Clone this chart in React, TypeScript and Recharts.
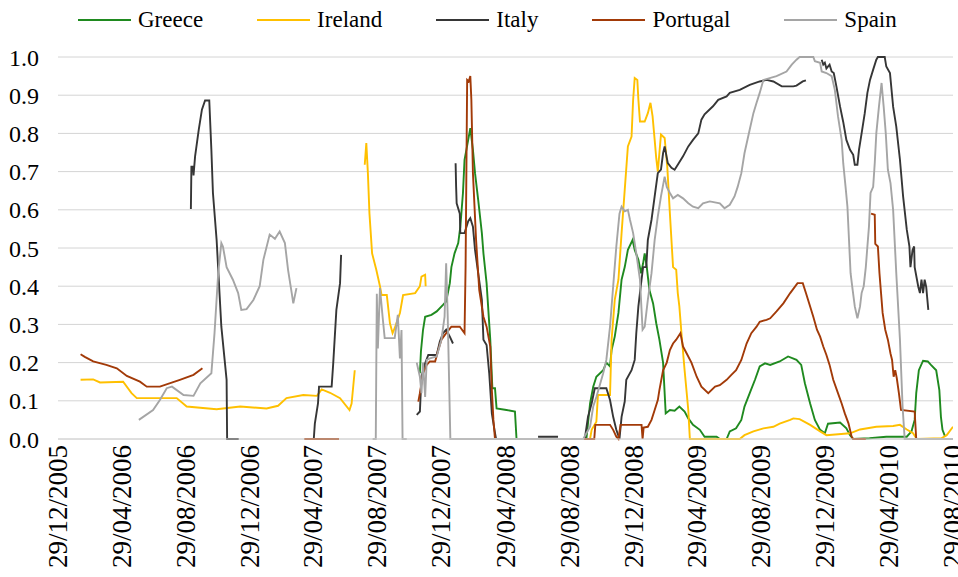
import { CartesianGrid, Legend, Line, LineChart, XAxis, YAxis } from "recharts";

type Pt = [string, number];

// each series is a list of segments, the chart leaves gaps between them
const greece: Pt[][] = [
  [
    ["2007-11-18", 0.172], ["2007-11-20", 0.229], ["2007-11-24", 0.286], ["2007-11-28", 0.32],
    ["2007-12-10", 0.325], ["2007-12-20", 0.334], ["2008-01-01", 0.351], ["2008-01-07", 0.36],
    ["2008-01-14", 0.408], ["2008-01-17", 0.45], ["2008-01-23", 0.486], ["2008-01-30", 0.513],
    ["2008-02-03", 0.556], ["2008-02-08", 0.644], ["2008-02-11", 0.731], ["2008-02-18", 0.783],
    ["2008-02-22", 0.814], ["2008-02-27", 0.757], ["2008-03-02", 0.696], ["2008-03-08", 0.626],
    ["2008-03-15", 0.539], ["2008-03-18", 0.486], ["2008-03-24", 0.408], ["2008-03-31", 0.26],
    ["2008-04-04", 0.133], ["2008-04-09", 0.133], ["2008-04-12", 0.08], ["2008-05-01", 0.076],
    ["2008-05-17", 0.072], ["2008-05-20", 0],
  ],
  [
    ["2008-09-30", 0], ["2008-10-07", 0.093], ["2008-10-13", 0.137], ["2008-10-19", 0.163],
    ["2008-11-01", 0.18], ["2008-11-07", 0.2], ["2008-11-14", 0.19], ["2008-11-17", 0.233],
    ["2008-11-23", 0.268], ["2008-11-30", 0.33], ["2008-12-06", 0.417], ["2008-12-12", 0.45],
    ["2008-12-18", 0.495], ["2008-12-27", 0.521], ["2008-12-31", 0.495], ["2009-01-07", 0.469],
    ["2009-01-12", 0.434], ["2009-01-16", 0.46], ["2009-01-19", 0.486], ["2009-01-23", 0.45],
    ["2009-01-28", 0.39], ["2009-02-04", 0.355], ["2009-02-10", 0.303], ["2009-02-16", 0.26],
    ["2009-02-23", 0.2], ["2009-02-28", 0.067], ["2009-03-08", 0.076], ["2009-03-17", 0.074],
    ["2009-03-26", 0.085], ["2009-04-05", 0.072], ["2009-04-12", 0.054], ["2009-04-21", 0.037],
    ["2009-05-04", 0.024], ["2009-05-13", 0.006], ["2009-06-05", 0.006], ["2009-06-11", 0],
    ["2009-06-24", 0], ["2009-06-30", 0.02], ["2009-07-12", 0.028], ["2009-07-22", 0.05],
    ["2009-07-28", 0.085], ["2009-08-07", 0.12], ["2009-08-17", 0.155], ["2009-08-26", 0.19],
    ["2009-09-05", 0.198], ["2009-09-15", 0.194], ["2009-10-03", 0.203], ["2009-10-19", 0.216],
    ["2009-11-04", 0.207], ["2009-11-13", 0.194], ["2009-11-20", 0.146], ["2009-11-30", 0.093],
    ["2009-12-09", 0.05], ["2009-12-19", 0.024], ["2009-12-28", 0.015], ["2010-01-03", 0.04],
    ["2010-01-26", 0.043], ["2010-02-07", 0.028], ["2010-02-14", 0.01], ["2010-02-20", 0],
    ["2010-03-23", 0.002], ["2010-04-24", 0.006], ["2010-06-02", 0.006], ["2010-06-11", 0.02],
    ["2010-06-17", 0.05], ["2010-06-20", 0.12], ["2010-06-25", 0.18], ["2010-07-03", 0.205],
    ["2010-07-12", 0.203], ["2010-07-18", 0.194], ["2010-07-28", 0.18], ["2010-08-03", 0.128],
    ["2010-08-06", 0.058], ["2010-08-09", 0.024], ["2010-08-14", 0.006],
  ],
];

const ireland: Pt[][] = [
  [
    ["2006-02-10", 0.155], ["2006-03-06", 0.156], ["2006-03-19", 0.148], ["2006-05-02", 0.15],
    ["2006-05-18", 0.12], ["2006-05-28", 0.107], ["2006-08-12", 0.107], ["2006-08-31", 0.085],
    ["2006-10-27", 0.078], ["2006-12-11", 0.085], ["2007-01-30", 0.08], ["2007-02-21", 0.087],
    ["2007-03-09", 0.107], ["2007-04-10", 0.115], ["2007-05-06", 0.113], ["2007-05-15", 0.13],
    ["2007-05-31", 0.121], ["2007-06-19", 0.107], ["2007-07-07", 0.076], ["2007-07-11", 0.093],
    ["2007-07-17", 0.18],
  ],
  [
    ["2007-08-05", 0.718], ["2007-08-08", 0.775], ["2007-08-11", 0.696], ["2007-08-14", 0.59],
    ["2007-08-19", 0.486], ["2007-08-27", 0.443], ["2007-09-03", 0.4], ["2007-09-06", 0.377],
    ["2007-09-16", 0.377], ["2007-09-22", 0.303], ["2007-09-27", 0.277], ["2007-10-01", 0.29],
    ["2007-10-11", 0.33], ["2007-10-17", 0.377], ["2007-11-09", 0.382], ["2007-11-18", 0.4],
    ["2007-11-21", 0.425], ["2007-11-28", 0.43], ["2007-11-29", 0.4],
  ],
  [
    ["2008-04-02", 0], ["2008-10-07", 0], ["2008-10-10", 0.024], ["2008-10-19", 0.045],
    ["2008-10-22", 0.115], ["2008-11-14", 0.115], ["2008-11-17", 0.26], ["2008-11-23", 0.364],
    ["2008-11-30", 0.417], ["2008-12-06", 0.539], ["2008-12-12", 0.652], ["2008-12-18", 0.766],
    ["2008-12-25", 0.792], ["2008-12-28", 0.888], ["2008-12-31", 0.945], ["2009-01-05", 0.94],
    ["2009-01-07", 0.888], ["2009-01-10", 0.831], ["2009-01-19", 0.831], ["2009-01-25", 0.853],
    ["2009-01-30", 0.88], ["2009-02-03", 0.845], ["2009-02-07", 0.783], ["2009-02-10", 0.735],
    ["2009-02-13", 0.7], ["2009-02-19", 0.797], ["2009-02-26", 0.788], ["2009-03-03", 0.713],
    ["2009-03-08", 0.59], ["2009-03-14", 0.45], ["2009-03-20", 0.443], ["2009-03-23", 0.382],
    ["2009-03-26", 0.347], ["2009-03-30", 0.277], ["2009-04-05", 0.18], ["2009-04-12", 0.076],
    ["2009-04-15", 0], ["2009-07-19", 0], ["2009-07-28", 0.01], ["2009-08-14", 0.02],
    ["2009-09-02", 0.028], ["2009-09-21", 0.032], ["2009-10-03", 0.04], ["2009-10-23", 0.05],
    ["2009-10-29", 0.054], ["2009-11-10", 0.052], ["2009-11-30", 0.037], ["2009-12-19", 0.02],
    ["2009-12-31", 0.01], ["2010-02-14", 0.015], ["2010-03-05", 0.025], ["2010-04-05", 0.032],
    ["2010-05-07", 0.034], ["2010-05-20", 0.037], ["2010-06-02", 0.025], ["2010-06-14", 0.015],
    ["2010-06-21", 0], ["2010-08-07", 0.002], ["2010-08-17", 0.01], ["2010-08-29", 0.032],
  ],
];

const italy: Pt[][] = [
  [
    ["2006-09-08", 0.602], ["2006-09-09", 0.713], ["2006-09-12", 0.713], ["2006-09-13", 0.69],
    ["2006-09-16", 0.74], ["2006-09-23", 0.81], ["2006-09-29", 0.862], ["2006-10-05", 0.886],
    ["2006-10-13", 0.886], ["2006-10-17", 0.757], ["2006-10-20", 0.644], ["2006-10-27", 0.521],
    ["2006-11-05", 0.294], ["2006-11-15", 0.155], ["2006-11-16", 0], ["2006-12-08", 0],
  ],
  [
    ["2007-04-30", 0], ["2007-05-02", 0.04], ["2007-05-08", 0.093], ["2007-05-10", 0.137],
    ["2007-06-03", 0.137], ["2007-06-06", 0.198], ["2007-06-12", 0.338], ["2007-06-19", 0.408],
    ["2007-06-21", 0.482],
  ],
  [
    ["2007-11-12", 0.063], ["2007-11-18", 0.072], ["2007-11-21", 0.163], ["2007-11-28", 0.198],
    ["2007-12-04", 0.22], ["2007-12-20", 0.22], ["2007-12-26", 0.255], ["2008-01-01", 0.277],
    ["2008-01-07", 0.286], ["2008-01-14", 0.268], ["2008-01-20", 0.25],
  ],
  [
    ["2008-01-25", 0.722], ["2008-01-26", 0.66], ["2008-01-27", 0.617], ["2008-02-02", 0.59],
    ["2008-02-03", 0.539], ["2008-02-11", 0.539], ["2008-02-18", 0.57], ["2008-02-22", 0.578],
    ["2008-02-27", 0.556], ["2008-03-02", 0.495], ["2008-03-08", 0.434], ["2008-03-15", 0.364],
    ["2008-03-18", 0.26], ["2008-03-24", 0.246], ["2008-03-29", 0.172], ["2008-04-03", 0.067],
    ["2008-04-08", 0.024], ["2008-04-11", 0],
  ],
  [["2008-06-30", 0.006], ["2008-08-07", 0.006]],
  [
    ["2008-09-27", 0], ["2008-10-03", 0.058], ["2008-10-10", 0.093], ["2008-10-16", 0.133],
    ["2008-11-07", 0.133], ["2008-11-14", 0.102], ["2008-11-20", 0.058], ["2008-11-26", 0.024],
    ["2008-12-02", 0], ["2008-12-06", 0.058], ["2008-12-12", 0.098], ["2008-12-15", 0.155],
    ["2008-12-25", 0.18], ["2008-12-31", 0.207], ["2009-01-03", 0.277], ["2009-01-07", 0.347],
    ["2009-01-13", 0.417], ["2009-01-16", 0.45], ["2009-01-22", 0.45], ["2009-01-25", 0.521],
    ["2009-02-01", 0.574], ["2009-02-07", 0.635], ["2009-02-13", 0.696], ["2009-02-19", 0.705],
    ["2009-02-23", 0.748], ["2009-02-26", 0.766], ["2009-03-04", 0.722], ["2009-03-11", 0.71],
    ["2009-03-17", 0.705], ["2009-03-23", 0.718], ["2009-04-02", 0.74], ["2009-04-12", 0.766],
    ["2009-04-21", 0.783], ["2009-05-01", 0.8], ["2009-05-07", 0.836], ["2009-05-13", 0.85],
    ["2009-05-29", 0.871], ["2009-06-08", 0.888], ["2009-06-24", 0.897], ["2009-06-30", 0.906],
    ["2009-07-19", 0.914], ["2009-08-07", 0.927], ["2009-08-26", 0.936], ["2009-09-08", 0.94],
    ["2009-09-21", 0.936], ["2009-10-07", 0.923], ["2009-10-29", 0.923], ["2009-11-04", 0.925],
    ["2009-11-16", 0.936], ["2009-11-22", 0.939],
  ],
  [
    ["2009-12-22", 0.993], ["2009-12-25", 0.98], ["2009-12-28", 0.985], ["2009-12-31", 0.97],
    ["2010-01-06", 0.98], ["2010-01-10", 0.962], ["2010-01-14", 0.958], ["2010-01-19", 0.923],
    ["2010-01-26", 0.87], ["2010-02-01", 0.83], ["2010-02-07", 0.783], ["2010-02-14", 0.757],
    ["2010-02-20", 0.744], ["2010-02-23", 0.718], ["2010-02-28", 0.718], ["2010-03-03", 0.757],
    ["2010-03-08", 0.8], ["2010-03-14", 0.853], ["2010-03-19", 0.906], ["2010-03-24", 0.94],
    ["2010-03-30", 0.967], ["2010-04-05", 0.993], ["2010-04-08", 1.0], ["2010-04-21", 1.0],
    ["2010-04-24", 0.975], ["2010-05-01", 0.958], ["2010-05-07", 0.87], ["2010-05-13", 0.818],
    ["2010-05-20", 0.731], ["2010-05-26", 0.635], ["2010-06-02", 0.548], ["2010-06-07", 0.504],
    ["2010-06-09", 0.45], ["2010-06-13", 0.495], ["2010-06-16", 0.504], ["2010-06-17", 0.45],
    ["2010-06-24", 0.398], ["2010-06-27", 0.382], ["2010-06-30", 0.417], ["2010-07-03", 0.382],
    ["2010-07-06", 0.417], ["2010-07-09", 0.398], ["2010-07-13", 0.338],
  ],
];

const portugal: Pt[][] = [
  [
    ["2006-02-10", 0.222], ["2006-02-18", 0.215], ["2006-03-06", 0.203], ["2006-03-31", 0.194],
    ["2006-04-20", 0.185], ["2006-05-09", 0.165], ["2006-06-03", 0.15], ["2006-06-16", 0.137],
    ["2006-07-11", 0.137], ["2006-08-18", 0.155], ["2006-09-13", 0.168], ["2006-09-30", 0.185],
  ],
  [["2007-04-12", 0], ["2007-06-17", 0]],
  [
    ["2007-11-15", 0.098], ["2007-11-18", 0.12], ["2007-11-24", 0.172], ["2007-12-01", 0.194],
    ["2007-12-07", 0.203], ["2007-12-17", 0.203], ["2007-12-23", 0.233], ["2007-12-29", 0.26],
    ["2008-01-07", 0.277], ["2008-01-17", 0.294], ["2008-02-02", 0.294], ["2008-02-11", 0.277],
    ["2008-02-13", 0.45], ["2008-02-16", 0.94], ["2008-02-19", 0.936], ["2008-02-22", 0.95],
    ["2008-02-24", 0.888], ["2008-02-27", 0.696], ["2008-03-04", 0.521], ["2008-03-10", 0.39],
    ["2008-03-18", 0.32], ["2008-03-24", 0.294], ["2008-03-31", 0.242], ["2008-04-03", 0.128],
    ["2008-04-06", 0.05], ["2008-04-09", 0], ["2008-10-15", 0], ["2008-10-17", 0.037],
    ["2008-11-14", 0.037], ["2008-11-20", 0.024], ["2008-11-26", 0.006], ["2008-11-30", 0],
    ["2008-12-04", 0.037], ["2009-01-13", 0.037], ["2009-01-15", 0], ["2009-01-17", 0.03],
    ["2009-01-25", 0.032], ["2009-02-01", 0.05], ["2009-02-07", 0.076], ["2009-02-13", 0.102],
    ["2009-02-16", 0.128], ["2009-02-23", 0.18], ["2009-03-02", 0.2], ["2009-03-08", 0.233],
    ["2009-03-14", 0.25], ["2009-03-20", 0.26], ["2009-03-28", 0.277], ["2009-04-02", 0.242],
    ["2009-04-09", 0.224], ["2009-04-18", 0.2], ["2009-04-28", 0.163], ["2009-05-07", 0.137],
    ["2009-05-20", 0.12], ["2009-06-02", 0.137], ["2009-06-11", 0.141], ["2009-06-24", 0.155],
    ["2009-07-03", 0.168], ["2009-07-12", 0.18], ["2009-07-22", 0.207], ["2009-08-01", 0.25],
    ["2009-08-10", 0.277], ["2009-08-20", 0.294], ["2009-08-26", 0.307], ["2009-09-08", 0.312],
    ["2009-09-15", 0.316], ["2009-09-27", 0.334], ["2009-10-10", 0.355], ["2009-10-23", 0.382],
    ["2009-11-06", 0.408], ["2009-11-16", 0.408], ["2009-11-22", 0.382], ["2009-11-30", 0.347],
    ["2009-12-06", 0.32], ["2009-12-13", 0.286], ["2009-12-19", 0.268], ["2009-12-25", 0.242],
    ["2009-12-31", 0.22], ["2010-01-06", 0.194], ["2010-01-13", 0.155], ["2010-01-22", 0.12],
    ["2010-01-29", 0.093], ["2010-02-04", 0.067], ["2010-02-11", 0.041], ["2010-02-17", 0.006],
    ["2010-02-20", 0], ["2010-03-16", 0],
  ],
  [
    ["2010-03-26", 0.59], ["2010-04-02", 0.587], ["2010-04-03", 0.511], ["2010-04-08", 0.504],
    ["2010-04-11", 0.434], ["2010-04-14", 0.382], ["2010-04-17", 0.33], ["2010-04-22", 0.286],
    ["2010-04-27", 0.26], ["2010-05-02", 0.224], ["2010-05-05", 0.207], ["2010-05-08", 0.163],
    ["2010-05-11", 0.18], ["2010-05-14", 0.159], ["2010-05-18", 0.12], ["2010-05-22", 0.076],
    ["2010-06-17", 0.072], ["2010-06-20", 0], ["2010-06-25", 0],
  ],
];

const spain: Pt[][] = [
  [
    ["2006-06-01", 0.05], ["2006-06-28", 0.076], ["2006-07-11", 0.102], ["2006-07-24", 0.133],
    ["2006-08-03", 0.137], ["2006-08-25", 0.115], ["2006-09-13", 0.113], ["2006-09-26", 0.146],
    ["2006-10-17", 0.172], ["2006-10-23", 0.277], ["2006-10-30", 0.434], ["2006-11-05", 0.513],
    ["2006-11-08", 0.504], ["2006-11-15", 0.45], ["2006-11-27", 0.417], ["2006-12-07", 0.382],
    ["2006-12-13", 0.338], ["2006-12-23", 0.34], ["2007-01-05", 0.364], ["2007-01-17", 0.4],
    ["2007-01-24", 0.469], ["2007-02-05", 0.535], ["2007-02-15", 0.524], ["2007-02-24", 0.543],
    ["2007-03-06", 0.513], ["2007-03-12", 0.443], ["2007-03-19", 0.382], ["2007-03-22", 0.355],
    ["2007-03-28", 0.395],
  ],
  [
    ["2007-08-20", 0], ["2007-08-26", 0], ["2007-08-28", 0.38], ["2007-08-30", 0.237],
    ["2007-09-03", 0.395], ["2007-09-08", 0.32], ["2007-09-12", 0.264], ["2007-10-01", 0.264],
    ["2007-10-07", 0.325], ["2007-10-11", 0.211], ["2007-10-14", 0.285], ["2007-10-16", 0],
    ["2007-10-24", 0],
  ],
  [
    ["2007-11-12", 0.2], ["2007-11-18", 0.163], ["2007-11-21", 0.12], ["2007-11-24", 0.2],
    ["2007-11-28", 0.11], ["2007-12-01", 0.207], ["2007-12-07", 0.211], ["2007-12-20", 0.216],
    ["2007-12-29", 0.26], ["2008-01-04", 0.32], ["2008-01-07", 0.46], ["2008-01-10", 0.32],
    ["2008-01-15", 0], ["2008-09-24", 0], ["2008-09-30", 0.015], ["2008-10-07", 0.032],
    ["2008-10-13", 0.085], ["2008-10-19", 0.11], ["2008-11-01", 0.172], ["2008-11-07", 0.207],
    ["2008-11-14", 0.294], ["2008-11-20", 0.4], ["2008-11-26", 0.504], ["2008-12-02", 0.59],
    ["2008-12-06", 0.608], ["2008-12-12", 0.596], ["2008-12-18", 0.6], ["2008-12-22", 0.574],
    ["2008-12-28", 0.539], ["2009-01-03", 0.486], ["2009-01-10", 0.417], ["2009-01-15", 0.286],
    ["2009-01-19", 0.294], ["2009-01-25", 0.364], ["2009-02-01", 0.434], ["2009-02-07", 0.521],
    ["2009-02-13", 0.583], ["2009-02-19", 0.635], ["2009-02-26", 0.687], ["2009-03-02", 0.66],
    ["2009-03-08", 0.644], ["2009-03-14", 0.63], ["2009-03-23", 0.639], ["2009-04-02", 0.63],
    ["2009-04-12", 0.617], ["2009-04-21", 0.608], ["2009-05-01", 0.604], ["2009-05-10", 0.617],
    ["2009-05-23", 0.622], ["2009-06-11", 0.617], ["2009-06-20", 0.604], ["2009-06-30", 0.613],
    ["2009-07-09", 0.635], ["2009-07-15", 0.66], ["2009-07-22", 0.696], ["2009-07-28", 0.748],
    ["2009-08-07", 0.81], ["2009-08-14", 0.853], ["2009-08-20", 0.88], ["2009-08-26", 0.906],
    ["2009-09-02", 0.94], ["2009-09-27", 0.95], ["2009-10-16", 0.962], ["2009-10-26", 0.98],
    ["2009-11-04", 0.993], ["2009-11-10", 1.0], ["2009-12-06", 1.0], ["2009-12-09", 0.989],
    ["2009-12-19", 0.985], ["2009-12-22", 0.962], ["2009-12-31", 0.958], ["2010-01-10", 0.95],
    ["2010-01-16", 0.914], ["2010-01-22", 0.845], ["2010-01-29", 0.783], ["2010-02-01", 0.722],
    ["2010-02-06", 0.652], ["2010-02-09", 0.608], ["2010-02-12", 0.521], ["2010-02-15", 0.434],
    ["2010-02-19", 0.39], ["2010-02-23", 0.347], ["2010-02-28", 0.316], ["2010-03-05", 0.347],
    ["2010-03-08", 0.382], ["2010-03-12", 0.4], ["2010-03-16", 0.45], ["2010-03-19", 0.504],
    ["2010-03-22", 0.556], ["2010-03-25", 0.644], ["2010-03-30", 0.66], ["2010-04-02", 0.722],
    ["2010-04-05", 0.8], ["2010-04-10", 0.87], ["2010-04-15", 0.932], ["2010-04-19", 0.87],
    ["2010-04-23", 0.8], ["2010-04-27", 0.705], ["2010-05-02", 0.67], ["2010-05-07", 0.6],
    ["2010-05-13", 0.434], ["2010-05-20", 0.26], ["2010-05-25", 0.085], ["2010-05-29", 0],
    ["2010-08-29", 0],
  ],
];

const xTicks = [
  "29/12/2005", "29/04/2006", "29/08/2006", "29/12/2006", "29/04/2007",
  "29/08/2007", "29/12/2007", "29/04/2008", "29/08/2008", "29/12/2008",
  "29/04/2009", "29/08/2009", "29/12/2009", "29/04/2010", "29/08/2010",
];
const yTicks = [0, 0.1, 0.2, 0.3, 0.4, 0.5, 0.6, 0.7, 0.8, 0.9, 1.0];

const series = [
  { name: "Greece", color: "#1F8A1F", segments: greece },
  { name: "Ireland", color: "#FFC000", segments: ireland },
  { name: "Italy", color: "#363636", segments: italy },
  { name: "Portugal", color: "#A23A08", segments: portugal },
  { name: "Spain", color: "#A5A5A5", segments: spain },
];

const FONT = "'Liberation Serif'";

const isoDay = (s: string) => {
  const [y, m, d] = s.split("-").map(Number);
  return Date.UTC(y, m - 1, d) / 864e5;
};
const dmyDay = (s: string) => {
  const [d, m, y] = s.split("/").map(Number);
  return Date.UTC(y, m - 1, d) / 864e5;
};
const fmtDay = (n: number) => {
  const dt = new Date(n * 864e5);
  const dd = String(dt.getUTCDate()).padStart(2, "0");
  const mm = String(dt.getUTCMonth() + 1).padStart(2, "0");
  return `${dd}/${mm}/${dt.getUTCFullYear()}`;
};

// flatten segments, a null point between two segments breaks the line
function toRows(segments: Pt[][]) {
  const rows: { t: number; v: number | null }[] = [];
  segments.forEach((seg, i) => {
    if (i > 0) rows.push({ t: isoDay(segments[i - 1][segments[i - 1].length - 1][0]), v: null });
    seg.forEach(([d, v]) => rows.push({ t: isoDay(d), v }));
  });
  return rows;
}

function DateTick({ x, y, payload }: any) {
  return (
    <text
      x={x}
      y={y}
      transform={`rotate(-90 ${x} ${y})`}
      textAnchor="end"
      dominantBaseline="central"
      fill="#000"
      style={{ fontFamily: FONT, fontSize: 27 }}
    >
      {fmtDay(payload.value)}
    </text>
  );
}

function LegendRow({ payload }: any) {
  return (
    <div style={{ display: "flex", alignItems: "center", paddingLeft: 78, fontFamily: FONT, fontSize: 23, color: "#000" }}>
      {(payload ?? []).map((p: any) => (
        <span key={p.value} style={{ display: "inline-flex", alignItems: "center", marginRight: 54 }}>
          <svg width={53} height={4} style={{ display: "block" }}>
            <line x1={0} y1={2} x2={53} y2={2} stroke={p.color} strokeWidth={2} />
          </svg>
          <span style={{ marginLeft: 7, lineHeight: "26px" }}>{p.value}</span>
        </span>
      ))}
    </div>
  );
}

export default function App() {
  const ticks = xTicks.map(dmyDay);
  return (
    <div style={{ position: "absolute", left: 0, top: 0, width: 958, height: 577, background: "#fff", fontFamily: FONT }}>
      <LineChart width={958} height={577} margin={{ top: 57, right: 5, left: 0, bottom: 0 }} style={{ fontFamily: FONT }}>
        <CartesianGrid horizontal vertical={false} stroke="#D4D4D4" />
        <XAxis
          type="number"
          dataKey="t"
          domain={[ticks[0], ticks[ticks.length - 1]]}
          ticks={ticks}
          interval={0}
          allowDataOverflow
          height={138}
          tick={<DateTick />}
          tickLine={false}
          tickSize={0}
          tickMargin={6}
          axisLine={{ stroke: "#D4D4D4" }}
        />
        <YAxis
          domain={[0, 1]}
          ticks={yTicks}
          interval={0}
          width={58}
          tickFormatter={(v: number) => v.toFixed(1)}
          tick={{ fill: "#000", fontSize: 24, style: { fontFamily: FONT } }}
          tickLine={false}
          tickSize={0}
          tickMargin={19}
          axisLine={false}
        />
        <Legend verticalAlign="middle" align="center" wrapperStyle={{ top: 7, left: 0, width: 958 }} content={<LegendRow />} />
        {series.map((s) => (
          <Line
            key={s.name}
            name={s.name}
            data={toRows(s.segments)}
            dataKey="v"
            type="linear"
            stroke={s.color}
            strokeWidth={1.9}
            dot={false}
            activeDot={false}
            connectNulls={false}
            isAnimationActive={false}
          />
        ))}
      </LineChart>
    </div>
  );
}
